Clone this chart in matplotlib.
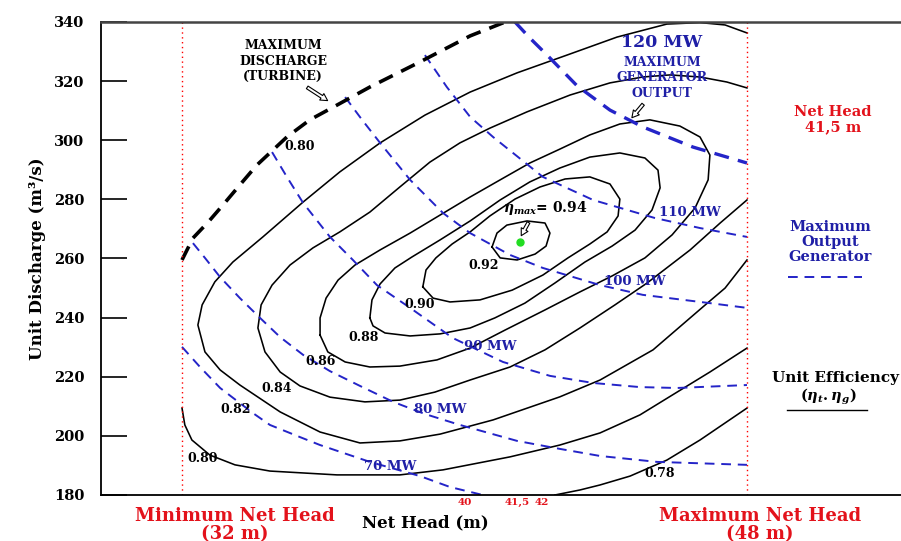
import matplotlib
matplotlib.use('Agg')
import matplotlib.pyplot as plt
from matplotlib.lines import Line2D

plt.rcParams['font.family'] = 'DejaVu Serif'
plt.rcParams['font.weight'] = 'bold'
plt.rcParams['axes.labelweight'] = 'bold'
plt.rcParams['mathtext.fontset'] = 'dejavuserif'

RED = '#e3121b'
BLUE = '#1f1fa6'
LINE_BLUE = '#2424c8'

# efficiency contours (net head m, unit discharge m3/s)
head_092 = [40.78, 40.92, 41.20, 41.77, 42.28, 42.42, 42.31, 42.00, 41.49, 41.01, 40.78]
q_092 = [263.9, 268.6, 271.3, 272.7, 272.0, 268.6, 264.2, 261.5, 259.5, 260.2, 263.9]

head_090 = [38.82, 38.91, 39.19, 39.65, 40.16, 40.72, 41.43, 42.14, 42.85, 43.55, 44.12,
            44.40, 44.35, 44.04, 43.55, 42.93, 42.22, 41.35, 40.44, 39.59, 39.11, 38.82]
q_090 = [250.4, 256.1, 260.2, 264.9, 269.0, 274.4, 280.1, 284.2, 286.9, 287.6, 285.2,
         280.1, 274.4, 269.0, 264.9, 260.2, 254.4, 249.3, 246.0, 245.3, 246.6, 250.4]

head_088 = [37.32, 37.38, 37.61, 38.03, 38.51, 39.31, 40.16, 41.01, 41.85, 42.70, 43.55, 44.40,
            45.11, 45.48, 45.54, 45.31, 44.83, 44.18, 43.41, 42.56, 41.71, 40.86, 40.16, 39.31,
            38.46, 37.75, 37.41, 37.32]
q_088 = [239.9, 246.0, 251.4, 256.8, 260.5, 266.3, 272.7, 279.8, 285.9, 290.6, 294.3, 295.7,
         294.0, 289.9, 283.9, 276.4, 269.6, 264.2, 258.8, 251.7, 244.9, 239.9, 236.5, 234.5,
         233.8, 234.8, 237.2, 239.9]

head_086 = [35.91, 35.91, 36.08, 36.42, 36.90, 37.61, 38.46, 39.31, 40.16, 41.01, 41.85, 42.70,
            43.55, 44.40, 45.25, 46.10, 46.67, 46.95, 46.90, 46.53, 45.88, 45.11, 44.18, 43.27,
            42.28, 41.15, 40.16, 39.22, 38.17, 37.32, 36.62, 36.13, 35.91]
q_086 = [234.1, 239.9, 246.6, 252.7, 257.8, 262.9, 268.6, 274.7, 280.8, 286.6, 292.3, 297.0,
         301.8, 305.5, 306.9, 304.8, 301.1, 295.0, 286.6, 277.1, 268.0, 260.2, 254.1, 248.7,
         242.6, 235.8, 229.7, 225.7, 223.6, 223.3, 225.0, 228.4, 234.1]

head_084 = [48.00, 47.43, 46.67, 45.82, 45.05, 44.12, 42.99, 41.77, 40.72, 39.87, 39.02, 38.17,
            37.32, 36.47, 35.71, 35.06, 34.55, 34.24, 34.15, 34.35, 34.78, 35.34, 36.19, 37.18,
            38.17, 39.16, 40.16, 41.29, 42.28, 43.27, 44.26, 45.17, 46.39, 47.24, 48.00]
q_084 = [317.7, 319.7, 321.4, 322.1, 321.4, 319.4, 315.3, 309.6, 304.1, 299.1, 292.6, 284.2,
         275.7, 269.0, 263.6, 257.8, 251.0, 244.3, 236.5, 228.4, 221.6, 216.9, 213.1, 211.5,
         212.1, 214.8, 218.9, 223.3, 229.1, 236.5, 244.3, 251.7, 262.9, 272.0, 279.8]

head_082 = [48.00, 47.38, 46.67, 45.73, 44.32, 42.90, 41.49, 40.16, 38.88, 37.61, 36.47, 35.43,
            34.29, 33.44, 32.93, 32.57, 32.45, 32.65, 33.08, 33.64, 34.78, 35.91, 37.04, 38.17,
            39.31, 40.81, 42.70, 43.84, 45.34, 46.75, 47.38, 48.00]
q_082 = [336.3, 339.0, 339.8, 339.3, 334.9, 328.8, 322.8, 316.3, 308.5, 299.1, 289.3, 279.1,
         267.3, 258.8, 252.1, 244.3, 237.5, 228.4, 222.3, 217.2, 208.1, 201.3, 197.6, 198.3,
         200.6, 205.4, 213.2, 218.9, 229.1, 243.6, 250.0, 259.5]

head_080 = [32.00, 32.08, 32.28, 32.79, 33.50, 34.49, 36.39, 38.17, 39.39, 41.29, 42.70, 43.84,
            44.97, 46.02, 46.95, 48.00]
q_080 = [209.4, 203.7, 198.6, 193.5, 190.2, 188.1, 186.8, 186.8, 188.5, 192.9, 196.9, 201.0,
         207.1, 214.8, 221.6, 229.7]

head_078 = [42.56, 43.27, 43.84, 44.69, 45.73, 46.67, 48.00]
q_078 = [180.0, 181.7, 183.4, 186.4, 191.8, 198.6, 209.4]

# generator output lines (MW)
head_70mw = [32.00, 32.51, 33.08, 34.01, 34.49, 35.34, 35.91, 37.32, 38.74, 39.59, 40.52]
q_70mw = [230.1, 223.3, 216.2, 207.7, 203.7, 199.6, 196.9, 191.2, 186.4, 182.7, 180.0]

head_80mw = [32.31, 32.65, 33.08, 33.64, 34.21, 34.78, 35.43, 36.19, 37.04, 37.98, 38.88,
             39.87, 41.49, 42.70, 43.84, 45.45, 48.00]
q_80mw = [265.2, 260.2, 253.7, 246.6, 239.9, 233.4, 227.4, 221.9, 216.9, 211.5, 207.4,
          203.7, 198.3, 195.6, 193.2, 191.2, 190.2]

head_90mw = [34.55, 34.97, 35.43, 36.19, 36.84, 37.52, 38.46, 39.67, 41.09, 42.42, 43.64,
             44.97, 46.02, 48.00]
q_90mw = [296.0, 287.6, 278.8, 267.3, 259.5, 251.0, 243.3, 233.1, 225.0, 220.3, 217.9,
          216.5, 216.2, 217.2]

head_100mw = [36.62, 37.10, 37.61, 38.46, 39.39, 40.16, 41.29, 42.22, 43.84, 45.05, 46.95, 48.00]
q_100mw = [314.6, 306.9, 299.1, 286.6, 275.4, 268.6, 261.2, 256.8, 251.0, 247.7, 244.9, 243.3]

head_110mw = [38.88, 39.50, 40.16, 40.81, 42.22, 43.64, 45.39, 46.67, 48.00]
q_110mw = [328.8, 318.0, 307.9, 301.1, 287.6, 279.8, 273.7, 270.3, 267.3]

head_120mw = [41.43, 41.85, 42.34, 43.19, 44.12, 45.05, 46.47, 48.00]
q_120mw = [340.0, 334.6, 328.8, 318.4, 310.2, 304.5, 297.7, 292.3]

# maximum turbine discharge
head_qmax = [32.00, 32.31, 32.74, 33.16, 33.64, 34.12, 34.97, 35.62, 36.39, 37.32, 38.74, 40.16, 41.15]
q_qmax = [259.5, 266.9, 272.3, 278.1, 284.9, 291.6, 301.1, 306.9, 311.9, 318.0, 326.5, 335.3, 340.0]

eff_labels = ['0.80', '0.80', '0.82', '0.84', '0.86', '0.88', '0.90', '0.92', '0.78']
eff_label_x = [35.34, 32.59, 33.53, 34.69, 35.91, 37.13, 38.74, 40.55, 45.54]
eff_label_y = [298.0, 192.5, 208.8, 215.9, 225.0, 233.4, 244.3, 257.5, 187.4]

mw_labels = ['70 MW', '80 MW', '90 MW', '100 MW', '110 MW']
mw_label_x = [37.89, 39.31, 40.72, 44.83, 46.39]
mw_label_y = [189.5, 208.8, 230.1, 252.1, 275.4]

best_head, best_q = 41.57, 265.6
min_head, max_head = 32, 48
x_ticks = [40, 41.5, 42]
x_tick_labels = ['40', '41,5', '42']
y_ticks = [180, 200, 220, 240, 260, 280, 300, 320, 340]

fig = plt.figure(figsize=(9.01, 5.41), dpi=100)
ax = fig.add_axes([101 / 901, 46 / 541, 800 / 901, 473 / 541])
ax.set_xlim(29.706, 52.362)
ax.set_ylim(180, 340)

contours = [(head_092, q_092), (head_090, q_090), (head_088, q_088), (head_086, q_086),
            (head_084, q_084), (head_082, q_082), (head_080, q_080), (head_078, q_078)]
for h, q in contours:
    ax.plot(h, q, color='black', lw=1.15)

for h, q in [(head_70mw, q_70mw), (head_80mw, q_80mw), (head_90mw, q_90mw),
             (head_100mw, q_100mw), (head_110mw, q_110mw)]:
    ax.plot(h, q, color=LINE_BLUE, lw=1.4, ls=(0, (5, 3.5)))
ax.plot(head_120mw, q_120mw, color=LINE_BLUE, lw=2.4, ls=(0, (4.5, 2.8)))
ax.plot(head_qmax, q_qmax, color='black', lw=2.6, ls=(0, (4.2, 2.6)))

ax.axvline(min_head, color='red', lw=1, ls=(0, (1, 2.5)))
ax.axvline(max_head, color='red', lw=1, ls=(0, (1, 2.5)))

for t, x, y in zip(eff_labels, eff_label_x, eff_label_y):
    ax.text(x, y, t, fontsize=9, ha='center', va='center')
for t, x, y in zip(mw_labels, mw_label_x, mw_label_y):
    ax.text(x, y, t, fontsize=9.5, color=BLUE, ha='center', va='center')

ax.plot(best_head, best_q, 'o', color='#22dd22', ms=5, mec='#22dd22')
ax.text(42.28, 277.1, r'$\eta_{max}$= 0.94', fontsize=10, ha='center', va='center')

hollow = dict(arrowstyle='simple,head_width=0.55,head_length=0.5,tail_width=0.22',
              fc='white', ec='black', lw=0.8)
ax.annotate('', xy=(41.57, 266.9), xytext=(41.85, 273.0), arrowprops=hollow)
ax.annotate('', xy=(36.19, 312.9), xytext=(35.48, 318.4), arrowprops=hollow)
ax.annotate('', xy=(44.69, 306.9), xytext=(45.11, 312.9), arrowprops=hollow)

ax.text(34.86, 326.8, 'MAXIMUM\nDISCHARGE\n(TURBINE)', fontsize=9, ha='center', va='center',
        linespacing=1.25)
ax.text(45.59, 333.2, '120 MW', fontsize=12.5, color=BLUE, ha='center', va='center')
ax.text(45.59, 321.2, 'MAXIMUM\nGENERATOR\nOUTPUT', fontsize=9, color=BLUE, ha='center',
        va='center', linespacing=1.25)

ax.spines['right'].set_visible(False)
for s in ['left', 'bottom']:
    ax.spines[s].set_linewidth(1.3)
ax.spines['top'].set_linewidth(1.8)
ax.spines['top'].set_color('#444444')

ax.set_yticks(y_ticks)
ax.tick_params(axis='y', direction='in', length=19, width=1.2, pad=12, labelsize=10.5)
ax.set_xticks(x_ticks, labels=x_tick_labels)
ax.tick_params(axis='x', length=0, pad=2, labelsize=7.5, labelcolor=RED)
xtl = ax.get_xticklabels()
xtl[2].set_ha('left')

ax.set_ylabel('Unit Discharge (m³/s)', fontsize=12, labelpad=6)
ax.set_xlabel('Net Head (m)', fontsize=12)
ax.xaxis.set_label_coords((425 - 101) / 800, -0.04)

fig.text(235 / 901, 16 / 541, 'Minimum Net Head\n(32 m)', color=RED, fontsize=13,
         ha='center', va='center', linespacing=0.95)
fig.text(760 / 901, 16 / 541, 'Maximum Net Head\n(48 m)', color=RED, fontsize=13,
         ha='center', va='center', linespacing=0.95)

fig.text(833 / 901, 421 / 541, 'Net Head\n41,5 m', color=RED, fontsize=10.5, ha='center',
         va='center', linespacing=1.1)
fig.text(830 / 901, 299 / 541, 'Maximum\nOutput\nGenerator', color=BLUE, fontsize=10.5,
         ha='center', va='center', linespacing=1.1)
fig.add_artist(Line2D([788 / 901, 862 / 901], [264 / 541, 264 / 541], color=LINE_BLUE,
                      lw=1.4, ls=(0, (5, 3.5))))
fig.text(835 / 901, 163 / 541, 'Unit Efficiency', fontsize=11, ha='center', va='center')
fig.text(828 / 901, 144 / 541, r'($\eta_t.\eta_g$)', fontsize=10.5, ha='center', va='center')
fig.add_artist(Line2D([787 / 901, 867 / 901], [131 / 541, 131 / 541], color='black', lw=1))

fig.savefig('out.png', dpi=100)
